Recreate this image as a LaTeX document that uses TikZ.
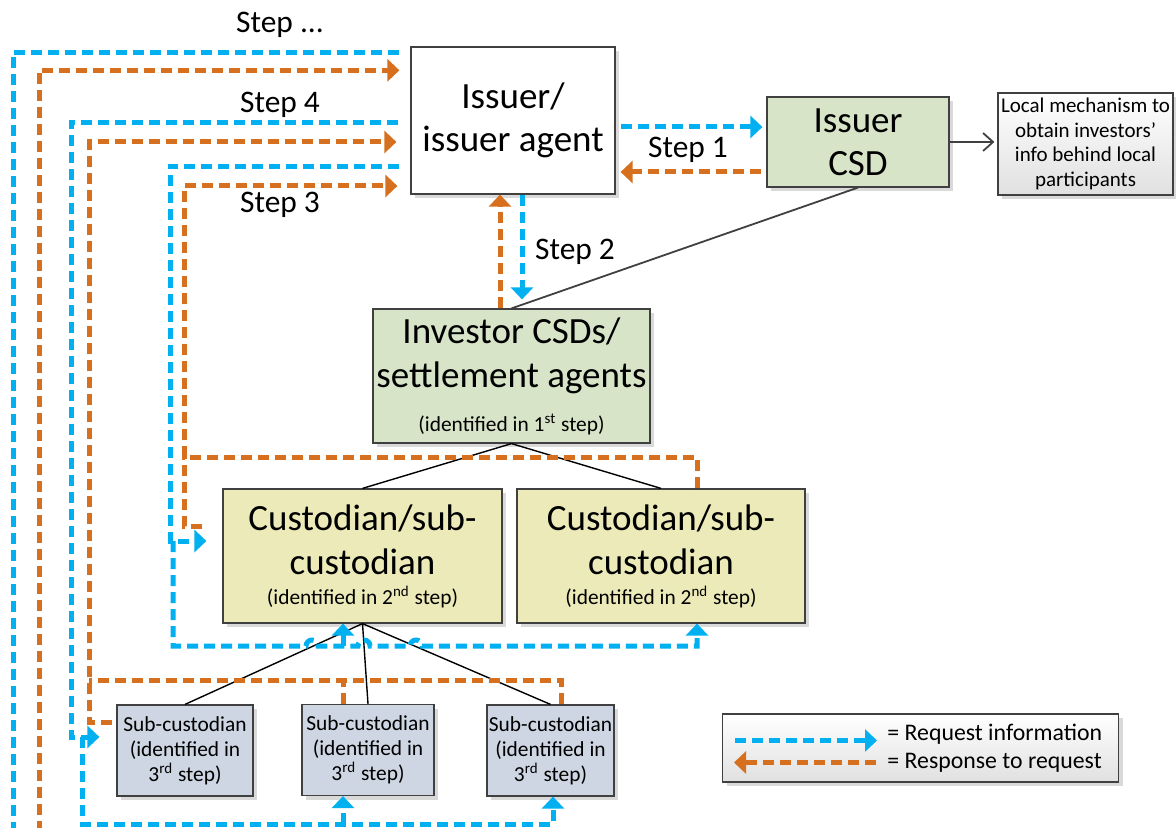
\documentclass[tikz,border=0pt]{standalone}
\usepackage{fontspec}
\setmainfont{Carlito}
\usepackage{xcolor}
\usepackage{tikz}
\usetikzlibrary{arrows.meta,shadows}
\definecolor{reqblue}{RGB}{0,176,240}
\definecolor{respor}{RGB}{214,112,30}
\definecolor{csdgreen}{RGB}{215,228,200}
\definecolor{custyel}{RGB}{235,234,184}
\definecolor{subgrey}{RGB}{205,214,226}
\definecolor{edgegrey}{RGB}{64,64,64}
\newcommand{\smalltxt}{\fontsize{10.7}{12.5}\selectfont}
\tikzset{
	boxshadow/.style={drop shadow={shadow xshift=2pt, shadow yshift=-2pt, fill=black!15, opacity=1}},
	plainbox/.style={rectangle, draw=edgegrey, line width=0.6pt, inner sep=0pt, align=center, boxshadow},
	bigbox/.style={plainbox, font=\fontsize{18.5}{22}\selectfont, minimum height=67pt},
	subbox/.style={plainbox, fill=subgrey, font=\smalltxt, minimum height=45.5pt}
}
\tikzset{
	steplabel/.style={anchor=base, inner sep=0pt, font=\fontsize{15.7}{18}\selectfont},
	legtext/.style={anchor=base west, inner sep=0pt, font=\fontsize{11.9}{14}\selectfont},
	req/.style={draw=reqblue, line width=2.5pt, dash pattern=on 5.5pt off 3pt},
	resp/.style={draw=respor, line width=2.5pt, dash pattern=on 5.5pt off 3pt},
	tree/.style={draw=black, line width=0.7pt},
	link/.style={draw=edgegrey, line width=0.9pt}
}

\begin{document}
\begin{tikzpicture}[x=0.5pt, y=-0.5pt, >={Triangle[length=6pt,width=11pt]}]
		\useasboundingbox (0,0) rectangle (1176,828);
		
		\node[plainbox, fill=white, font=\fontsize{18.5}{21.5}\selectfont, minimum width=102pt, minimum height=73.5pt] at (513,120.5) (iss) {Issuer/\\issuer agent};
		\node[plainbox, fill=csdgreen, font=\fontsize{18.5}{21.5}\selectfont, minimum width=91pt, minimum height=45pt] at (858,142) (icsd) {Issuer\\CSD};
		\node[plainbox, top color=white, bottom color=black!12, font=\fontsize{10.5}{12.3}\selectfont, minimum width=87.5pt, minimum height=51pt] at (1085.5,144) (loc) {Local mechanism to\\obtain investors’\\info behind local\\participants};
		\node[bigbox, fill=csdgreen, minimum width=138.5pt] at (511.5,376) (inv) {Investor CSDs/\\settlement agents\\{\smalltxt (identified in 1\textsuperscript{st} step)}};
		\node[bigbox, fill=custyel, minimum width=139.5pt] at (362.5,556) (cusL) {Custodian/sub-\\custodian\\[-7pt]{\smalltxt (identified in 2\textsuperscript{nd} step)}};
		\node[bigbox, fill=custyel, minimum width=144pt] at (661,556) (cusR) {Custodian/sub-\\custodian\\[-7pt]{\smalltxt (identified in 2\textsuperscript{nd} step)}};
		\node[subbox, minimum width=68pt] at (185,750.5) (subL) {Sub-custodian\\(identified in\\3\textsuperscript{rd} step)};
		\node[subbox, minimum width=66pt] at (368,750) (subM) {Sub-custodian\\(identified in\\3\textsuperscript{rd} step)};
		\node[subbox, minimum width=63.5pt] at (550.5,750.5) (subR) {Sub-custodian\\(identified in\\3\textsuperscript{rd} step)};
		
		\node[steplabel] at (280,33) (stepN) {Step ...};
		\node[steplabel] at (280,113) (step4) {Step 4};
		\node[steplabel] at (280,213) (step3) {Step 3};
		\node[steplabel] at (688,158) (step1) {Step 1};
		\node[steplabel] at (575,260) (step2) {Step 2};
		
		%Legend
		\node[plainbox, top color=white, bottom color=black!12, minimum width=198pt, minimum height=34pt] at (920.5,748) (leg) {};
		\node[legtext] at (887,740) (lgRq) {= Request information};
		\node[legtext] at (887,768) (lgRs) {= Response to request};
		\coordinate (lgA) at (735,740.5);
		\coordinate (lgB) at (734,762.5);
		\draw[req, ->, shorten >=5pt] (lgA) -- (lgRq.west |- lgA);
		\draw[resp, ->, shorten <=5.5pt] (lgRs.west |- lgB) -- (lgB);
		
		%Lines
		\draw[link] (icsd.south) -- (inv.north);
		\draw[link, -{Straight Barb[length=5pt,width=9pt]}, shorten >=1.5pt] (icsd.east) -- (icsd.east -| loc.west);
		\draw[tree] (inv.south) -- (cusL.north);
		\draw[tree] (inv.south) -- (cusR.north);
		\draw[tree] (cusL.south) -- (subL.north);
		\draw[tree] (cusL.south) -- (subM.north);
		\draw[tree] (cusL.south) -- (subR.north);
		
		% step 1 and 2
		\draw[req, ->, shorten <=2.5pt, shorten >=2pt] (iss.east |- 0,127) -- (icsd.west |- 0,127);
		\draw[resp, ->, shorten <=2.5pt, shorten >=2.5pt] (icsd.west |- 0,172) -- (iss.east |- 0,172);
		\draw[req, ->, shorten >=4.5pt] (iss.south -| 522,0) -- (inv.north -| 522,0);
		\draw[resp, ->] (inv.north -| 500,0) -- (iss.south -| 500,0);
		
		% step 3
		\draw[req, ->, shorten <=5.5pt, shorten >=8pt] (iss.west |- 0,166.7) -| (170,541) -- (cusL.west |- 0,541);
		\draw[req, ->] (173,541) -- (173,646) -- (306,646) arc[start angle=180, end angle=0, radius=3pt] -- (358,646) arc[start angle=180, end angle=0, radius=3pt] -- (410,646) arc[start angle=180, end angle=0, radius=3pt] -- (697,646) -- (cusR.south -| 697,0);
		\draw[req, ->] (343,646) -- (cusL.south -| 343,0);
		\draw[resp, ->, shorten >=6.5pt] (cusR.north -| 697,0) |- (184,457) |- (iss.west |- 0,186);
		\draw[resp, shorten <=10pt] (cusL.west |- 0,526) -| (184,457);
		
		% step 4
		\draw[req, ->, shorten <=6pt, shorten >=8.5pt] (iss.west |- 0,122.7) -| (71,737) -- (subL.west |- 0,737);
		\draw[req, ->] (82,737) |- (553,824) -- (subR.south -| 553,0);
		\draw[req, ->] (343,824) -- (subM.south -| 343,0);
		\draw[resp, ->, shorten <=2pt, shorten >=7pt] (subL.west |- 0,722) -| (89,142) -- (iss.west |- 0,142);
		\draw[resp] (subR.north -| 561,0) |- (89,680);
		\draw[resp] (subM.north -| 343,0) -- (343,680);
		
		% step ...
		\coordinate (offB) at (13,832);
		\coordinate (offO) at (39,832);
		\draw[req, shorten <=5.5pt] (iss.west |- 0,52.5) -| (offB);
		\draw[resp, ->, shorten >=5.5pt] (offO) |- (iss.west |- 0,70.3);
		
\end{tikzpicture}
\end{document}
